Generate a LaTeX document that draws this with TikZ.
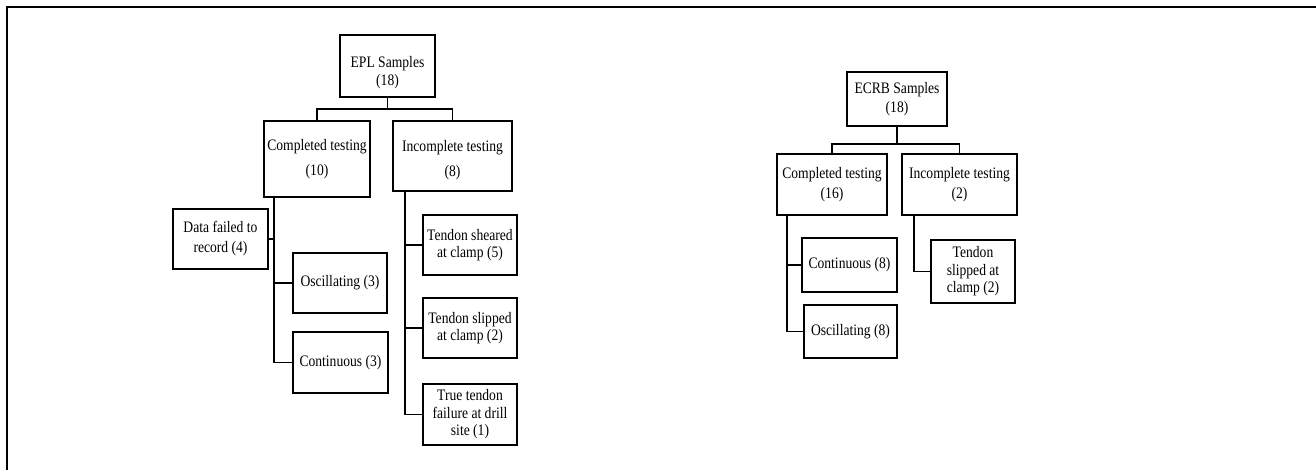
\documentclass[tikz,border=0pt]{standalone}
\usepackage{fontspec}
\setmainfont[FakeStretch=0.85]{Liberation Serif}
\usetikzlibrary{calc}
\begin{document}
\begin{tikzpicture}[x=1pt,y=-1pt,
  box/.style={draw=black, line width=1.7pt, inner sep=0pt, align=center,
    font=\fontsize{16}{17.5}\selectfont},
  link/.style={draw=black, line width=1.8pt},
  frame/.style={draw=black, line width=2pt}]
\useasboundingbox (0,0) rectangle (1316,470);
\draw[frame] (7,470) -- (7,7) -- (1316,7);

% EPL tree
\node[box, minimum width=95pt, minimum height=62pt] (epl) at (387.5,66)
  {\rule{0pt}{24pt}EPL Samples\\(18)};
\node[box, minimum width=106pt, minimum height=76pt] (comp10) at (317,159)
  {Completed testing\\[7.5pt](10)};
\node[box, minimum width=119pt, minimum height=70pt] (inc8) at (452.5,156)
  {\rule{0pt}{19pt}Incomplete testing\\[7.5pt](8)};
\node[box, minimum width=95pt, minimum height=60pt] (data) at (220.5,239)
  {Data failed to\\[2.5pt]record (4)};
\node[box, minimum width=94pt, minimum height=60pt] (osc3) at (340,283)
  {Oscillating (3)};
\node[box, minimum width=95pt, minimum height=61pt] (cont3) at (340.5,362.5)
  {Continuous (3)};
\node[box, minimum width=94pt, minimum height=60pt] (shear) at (470,245)
  {Tendon sheared\\at clamp (5)};
\node[box, minimum width=94pt, minimum height=60pt] (slip) at (470,328)
  {Tendon slipped\\at clamp (2)};
\node[box, minimum width=94pt, minimum height=61pt] (truef) at (470,414.5)
  {True tendon\\failure at drill\\site (1)};

\coordinate (eplj) at ($(epl.south)+(0,11)$);
\draw[link] (epl.south) -- (eplj) -| (comp10.north);
\draw[link] (eplj) -| (inc8.north);
\coordinate (c10t) at ([xshift=11pt]comp10.south west);
\draw[link] (c10t) |- (cont3.west);
\draw[link] (c10t) |- (osc3.west);
\draw[link] (c10t) |- (data.east);
\coordinate (i8t) at ([xshift=13pt]inc8.south west);
\draw[link] (i8t) |- (truef.west);
\draw[link] (i8t) |- (slip.west);
\draw[link] (i8t) |- (shear.west);

% ECRB tree
\node[box, minimum width=100pt, minimum height=54pt] (ecrb) at (897,99)
  {ECRB Samples\\[1.5pt](18)};
\node[box, minimum width=110pt, minimum height=61pt] (comp16) at (832,184.5)
  {Completed testing\\[2.5pt](16)};
\node[box, minimum width=115pt, minimum height=61pt] (inc2) at (959.5,184.5)
  {Incomplete testing\\[2.5pt](2)};
\node[box, minimum width=95pt, minimum height=54pt] (cont8) at (849.5,265)
  {Continuous (8)};
\node[box, minimum width=93pt, minimum height=53pt] (osc8) at (850.5,331.5)
  {Oscillating (8)};
\node[box, minimum width=84pt, minimum height=63pt] (slip2) at (973,271.5)
  {Tendon\\slipped at\\clamp (2)};

\coordinate (ecrbj) at ($(ecrb.south)+(0,17)$);
\draw[link] (ecrb.south) -- (ecrbj) -| (comp16.north);
\draw[link] (ecrbj) -| (inc2.north);
\coordinate (c16t) at ([xshift=11pt]comp16.south west);
\draw[link] (c16t) |- (osc8.west);
\draw[link] (c16t) |- (cont8.west);
\coordinate (i2t) at ([xshift=13pt]inc2.south west);
\draw[link] (i2t) |- (slip2.west);
\end{tikzpicture}
\end{document}
